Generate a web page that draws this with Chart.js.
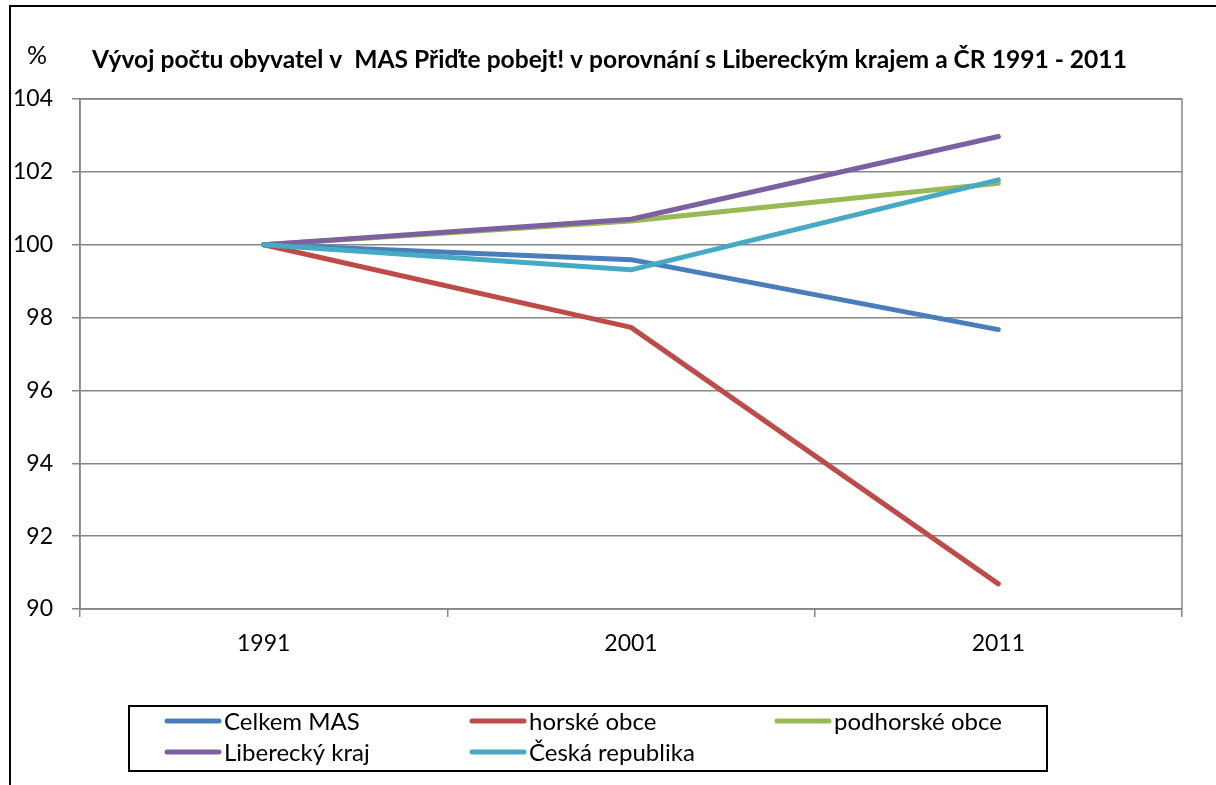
<!DOCTYPE html>
<html>
<head>
<meta charset="utf-8">
<script src="https://cdn.jsdelivr.net/npm/chart.js@4"></script>
<style>
  html, body { margin: 0; padding: 0; background: #fff; }
  #wrap { width: 1216px; height: 785px; }
</style>
</head>
<body>
<div id="wrap"><canvas id="popChart" width="1216" height="785"></canvas></div>
<script>
// data (index 1991 = 100)
const years = ['1991', '2001', '2011'];
const celkemMas = [100, 99.59, 97.67];
const horskeObce = [100, 97.73, 90.69];
const podhorskeObce = [100, 100.65, 101.69];
const libereckyKraj = [100, 100.70, 102.97];
const ceskaRepublika = [100, 99.31, 101.78];
const seriesNames = ['Celkem MAS', 'horské obce', 'podhorské obce', 'Liberecký kraj', 'Česká republika'];
const yTicks = [90, 92, 94, 96, 98, 100, 102, 104];

const titleText = 'Vývoj počtu obyvatel v  MAS Přiďte pobejt! v porovnání s Libereckým krajem a ČR 1991 - 2011';
const FONT = 'Lato, "Open Sans", sans-serif';
const GRID = '#868686';

const colors = ['#4A7EBB', '#BE4B48', '#98B954', '#7D60A0', '#46AAC5'];
const seriesData = [celkemMas, horskeObce, podhorskeObce, libereckyKraj, ceskaRepublika];

// background, frame, title and boxed legend
const decor = {
    id: 'decor',
    beforeDraw(chart) {
        const ctx = chart.ctx;
        ctx.save();
        ctx.fillStyle = '#fff';
        ctx.fillRect(0, 0, chart.width, chart.height);
        ctx.restore();
    },
    beforeDatasetsDraw(chart) {
        const {ctx, chartArea: a} = chart;
        ctx.save();
        ctx.strokeStyle = GRID;
        ctx.lineWidth = 1.5;
        ctx.strokeRect(a.left, a.top, a.right - a.left, a.bottom - a.top);
        ctx.restore();
    },
    afterDraw(chart) {
        const ctx = chart.ctx;
        ctx.save();
        // outer frame (left + top only visible)
        ctx.strokeStyle = '#000';
        ctx.lineWidth = 2;
        ctx.beginPath();
        ctx.moveTo(10, 785);
        ctx.lineTo(10, 6);
        ctx.lineTo(1216, 6);
        ctx.stroke();

        // unit label and title
        ctx.fillStyle = '#000';
        ctx.textBaseline = 'middle';
        ctx.font = '25px ' + FONT;
        ctx.fillText('%', 27, 56);
        // bold title sized to span the same width as the original
        let size = 26;
        ctx.font = 'bold ' + size + 'px ' + FONT;
        size = size * 1036 / ctx.measureText(titleText).width;
        ctx.font = 'bold ' + size.toFixed(1) + 'px ' + FONT;
        ctx.fillText(titleText, 92, 60);

        // legend box
        ctx.strokeStyle = '#000';
        ctx.lineWidth = 2;
        ctx.strokeRect(129, 706, 918, 65);
        ctx.font = '24px ' + FONT;
        ctx.lineCap = 'round';
        ctx.lineWidth = 5;
        chart.data.datasets.forEach((ds, i) => {
            const col = i % 3, row = Math.floor(i / 3);
            const x = 167 + col * 305;
            const y = 721 + row * 31;
            ctx.strokeStyle = ds.borderColor;
            ctx.beginPath();
            ctx.moveTo(x, y);
            ctx.lineTo(x + 52, y);
            ctx.stroke();
            ctx.fillText(ds.label, x + 57, y + 1);
        });
        ctx.restore();
    }
};

new Chart(document.getElementById('popChart'), {
    type: 'line',
    data: {
        labels: years,
        datasets: seriesNames.map((name, i) => ({
            label: name,
            data: seriesData[i],
            borderColor: colors[i],
            backgroundColor: colors[i],
            borderWidth: 5,
            borderCapStyle: 'round',
            borderJoinStyle: 'round',
            pointRadius: 0,
            tension: 0,
            order: seriesNames.length - i
        }))
    },
    options: {
        responsive: false,
        animation: false,
        layout: { padding: { top: 99, right: 34, left: 0, bottom: 0 } },
        plugins: {
            legend: { display: false },
            title: { display: false },
            tooltip: { enabled: false }
        },
        scales: {
            x: {
                offset: true,
                grid: {
                    offset: true,
                    drawOnChartArea: false,
                    drawTicks: true,
                    tickLength: 8,
                    color: GRID,
                    lineWidth: 1.5
                },
                border: { color: GRID, width: 1.5 },
                ticks: {
                    color: '#000',
                    font: { family: FONT, size: 23 },
                    padding: 13,
                    maxRotation: 0
                },
                afterFit(scale) { scale.height = 176; }
            },
            y: {
                min: 90,
                max: 104,
                afterBuildTicks(scale) { scale.ticks = yTicks.map(v => ({ value: v })); },
                grid: {
                    color: GRID,
                    lineWidth: 1.5,
                    tickLength: 8
                },
                border: { color: GRID, width: 1.5 },
                ticks: {
                    color: '#000',
                    font: { family: FONT, size: 23 },
                    padding: 19
                },
                afterFit(scale) { scale.width = 80; }
            }
        }
    },
    plugins: [decor]
});
</script>
</body>
</html>
